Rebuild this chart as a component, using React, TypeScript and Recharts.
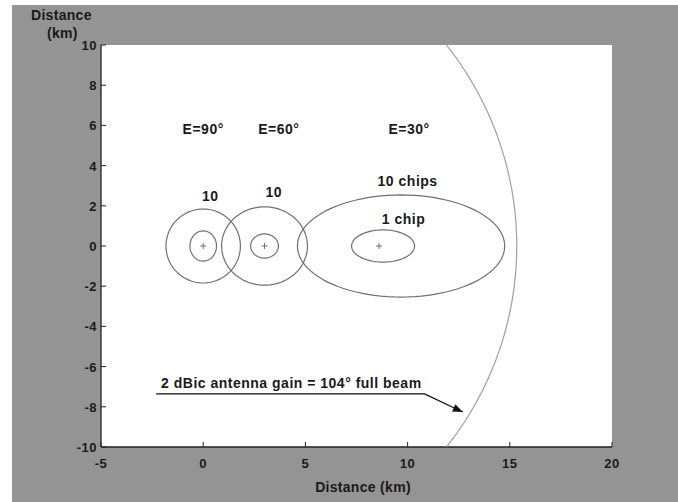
import React from 'react';
import {
  ScatterChart, Scatter, XAxis, YAxis, CartesianGrid,
} from 'recharts';

// axis ticks
const X_TICKS = [-5, 0, 5, 10, 15, 20];
const Y_TICKS = [-10, -8, -6, -4, -2, 0, 2, 4, 6, 8, 10];

// coverage footprints: centre (km) and semi-axes (km)
const FOOTPRINTS = [
  { cx: 0, cy: 0, rx: 1.82, ry: 1.84 },   // E=90, 10 chips
  { cx: 0, cy: 0, rx: 0.65, ry: 0.75 },   // E=90, 1 chip
  { cx: 3, cy: 0, rx: 2.1, ry: 1.95 },    // E=60, 10 chips
  { cx: 3, cy: 0, rx: 0.68, ry: 0.6 },    // E=60, 1 chip
  { cx: 9.68, cy: 0, rx: 5.07, ry: 2.54 }, // E=30, 10 chips
  { cx: 8.8, cy: 0, rx: 1.54, ry: 0.8 },  // E=30, 1 chip
];

// beam edge arc: centre, radius, angular span (deg)
const BEAM_ARC = { cx: -0.92, cy: 0, r: 16.26, from: -37.9, to: 37.9 };

// sub-satellite points
const CENTRES = [
  { x: 0, y: 0 },
  { x: 3, y: 0 },
  { x: 8.6, y: 0 },
];

const LABELS = [
  { x: 0, y: 5.8, text: 'E=90°' },
  { x: 3.7, y: 5.8, text: 'E=60°' },
  { x: 10.07, y: 5.8, text: 'E=30°' },
  { x: 0.35, y: 2.5, text: '10' },
  { x: 3.45, y: 2.7, text: '10' },
  { x: 10.0, y: 3.23, text: '10 chips' },
  { x: 9.8, y: 1.34, text: '1 chip' },
];

const NOTE = [{ x: -2.06, y: -6.82, text: '2 dBic antenna gain = 104° full beam' }];
const LEADER = [
  { x: -2.3, y: -7.36 },
  { x: 10.83, y: -7.36 },
  { x: 12.7, y: -8.26 },
];
const ARROW_TIP = [{ x: 12.7, y: -8.26 }];

const INK = '#707070';
const FONT = '"Liberation Sans", Arial, sans-serif';
const FS = 14;
const LS = 0.5;

const ellipsePts = (e: { cx: number; cy: number; rx: number; ry: number }) => {
  const pts = [];
  for (let i = 0; i <= 96; i++) {
    const t = (i / 96) * Math.PI * 2;
    pts.push({ x: e.cx + e.rx * Math.cos(t), y: e.cy + e.ry * Math.sin(t) });
  }
  return pts;
};

const arcPts = () => {
  const pts = [];
  const { cx, cy, r, from, to } = BEAM_ARC;
  for (let i = 0; i <= 80; i++) {
    const a = ((from + ((to - from) * i) / 80) * Math.PI) / 180;
    pts.push({ x: cx + r * Math.cos(a), y: cy + r * Math.sin(a) });
  }
  return pts;
};

const noDot = () => <g />;

const tickText = { fontSize: 13, fontWeight: 'bold', fontFamily: FONT, fill: '#1a1a1a', letterSpacing: LS };

const LeftTick = (p: any) => (
  <g>
    <line x1={p.x} x2={p.x + 5} y1={p.y} y2={p.y} stroke="#222" />
    <text x={p.x - 4} y={p.y} dy={5} textAnchor="end" {...tickText}>
      {p.payload.value}
    </text>
  </g>
);
const BottomTick = (p: any) => (
  <g>
    <line x1={p.x} x2={p.x} y1={p.y} y2={p.y - 5} stroke="#222" />
    <text x={p.x} y={p.y} dy={21} textAnchor="middle" {...tickText}>
      {p.payload.value}
    </text>
  </g>
);
const RightTick = (p: any) => <line x1={p.x} x2={p.x - 5} y1={p.y} y2={p.y} stroke="#222" />;
const TopTick = (p: any) => <line x1={p.x} x2={p.x} y1={p.y} y2={p.y + 5} stroke="#222" />;

const Plus = (p: any) => (
  <g stroke={INK} strokeWidth={1}>
    <line x1={p.cx - 3} x2={p.cx + 3} y1={p.cy} y2={p.cy} />
    <line x1={p.cx} x2={p.cx} y1={p.cy - 3} y2={p.cy + 3} />
  </g>
);

const labelText = { fontSize: FS, fontWeight: 'bold', fontFamily: FONT, fill: '#1a1a1a', letterSpacing: LS };

const Label = (p: any) => (
  <text x={p.cx} y={p.cy} dy={5} textAnchor="middle" {...labelText}>
    {p.payload.text}
  </text>
);
const NoteLabel = (p: any) => (
  <text x={p.cx} y={p.cy} dy={5} textAnchor="start" {...labelText}>
    {p.payload.text}
  </text>
);
const ArrowHead = (p: any) => (
  <polygon
    points="0,0 -10,-4 -10,4"
    fill="#111"
    transform={`translate(${p.cx},${p.cy}) rotate(25)`}
  />
);

export default function App() {
  const title = {
    position: 'absolute' as const, font: `bold ${FS}px ${FONT}`, color: '#1a1a1a', letterSpacing: 0.3,
  };
  return (
    <div style={{ position: 'absolute', left: 0, top: 0, width: 678, height: 502, background: '#fff' }}>
      <div style={{ position: 'absolute', left: 12, top: 5, right: 0, bottom: 0, background: '#949494' }} />
      <div style={{ position: 'absolute', left: 0, top: 0 }}>
        <ScatterChart width={678} height={502} margin={{ top: 45, right: 66, bottom: 25, left: 71 }}>
          <CartesianGrid fill="#fff" horizontal={false} vertical={false} />
          <XAxis
            type="number" dataKey="x" domain={[-5, 20]} ticks={X_TICKS} interval={0}
            allowDataOverflow height={30} tickSize={0} tickMargin={0} tickLine={false}
            axisLine={{ stroke: '#222', strokeWidth: 1.3 }} tick={BottomTick}
          />
          <XAxis
            xAxisId="top" orientation="top" type="number" domain={[-5, 20]} ticks={X_TICKS} interval={0}
            allowDataOverflow height={0} tickSize={0} tickMargin={0} tickLine={false}
            axisLine={{ stroke: '#222', strokeWidth: 1.3 }} tick={TopTick}
          />
          <YAxis
            type="number" dataKey="y" domain={[-10, 10]} ticks={Y_TICKS} interval={0}
            allowDataOverflow width={30} tickSize={0} tickMargin={0} tickLine={false}
            axisLine={{ stroke: '#222', strokeWidth: 1.3 }} tick={LeftTick}
          />
          <YAxis
            yAxisId="right" orientation="right" type="number" domain={[-10, 10]} ticks={Y_TICKS} interval={0}
            allowDataOverflow width={0} tickSize={0} tickMargin={0} tickLine={false}
            axisLine={{ stroke: '#222', strokeWidth: 1.3 }} tick={RightTick}
          />
          <Scatter data={arcPts()} line={{ stroke: '#a0a0a0', strokeWidth: 1.2 }} lineType="joint" shape={noDot} isAnimationActive={false} />
          {FOOTPRINTS.map((e, i) => (
            <Scatter key={i} data={ellipsePts(e)} line={{ stroke: INK, strokeWidth: 1.2 }} lineType="joint" shape={noDot} isAnimationActive={false} />
          ))}
          <Scatter data={CENTRES} shape={Plus} isAnimationActive={false} />
          <Scatter data={LEADER} line={{ stroke: '#111', strokeWidth: 1.3 }} lineType="joint" shape={noDot} isAnimationActive={false} />
          <Scatter data={ARROW_TIP} shape={ArrowHead} isAnimationActive={false} />
          <Scatter data={LABELS} shape={Label} isAnimationActive={false} />
          <Scatter data={NOTE} shape={NoteLabel} isAnimationActive={false} />
        </ScatterChart>
      </div>
      <div style={{ ...title, left: 31, top: 7 }}>Distance</div>
      <div style={{ ...title, left: 47, top: 25 }}>(km)</div>
      <div style={{ ...title, left: 0, width: 726, top: 479, textAlign: 'center' }}>Distance (km)</div>
    </div>
  );
}
